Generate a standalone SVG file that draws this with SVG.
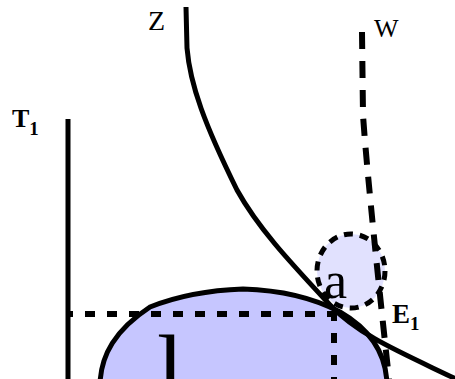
<svg xmlns="http://www.w3.org/2000/svg" width="455" height="379" viewBox="0 0 455 379">
<style>
.solid{fill:none;stroke:#000;stroke-width:5}
.dash{fill:none;stroke:#000;stroke-width:6;stroke-dasharray:10 12}
text{font-family:"Liberation Serif","Tinos","DejaVu Serif",serif;fill:#000}
.b{font-weight:bold}
</style>
<rect width="455" height="379" fill="#fff"/>
<g id="blob-l">
<path d="M100,384 C101,355 115,330 150,307 C180,295 215,290 243,289 C275,290 310,296 340,312 C366,327 386,350 387,384 Z" fill="#c6c6ff" stroke="#000" stroke-width="5"/>
<text x="157" y="401" font-size="96">l</text>
</g>
<g id="ellipse-a">
<ellipse cx="351" cy="271" rx="34" ry="37" fill="#e1e1fe" stroke="#000" stroke-width="5" stroke-dasharray="9 7"/>
<text x="324" y="298" font-size="52">a</text>
</g>
<g id="connectors">
<path id="axis-T1" class="solid" d="M68,119 L68,379"/>
<path id="curve-Z" class="solid" d="M186,7 L187,48 C190,85 205,125 237,190 C258,228 290,262 330,305 C360,336 400,352 456,379"/>
<path id="line-W" fill="none" stroke="#000" stroke-width="6" stroke-dasharray="17 12" d="M362,32 L363,115 C366,160 376,260 389,379"/>
<path id="h-dash" class="dash" stroke-dashoffset="3" d="M66,314 L337,314"/>
<path id="v-dash" class="dash" d="M334,311 L334,379"/>
</g>
<g id="label-T1"><text class="b" x="12" y="127" font-size="26">T<tspan font-size="19" dy="8">1</tspan></text></g>
<g id="label-Z"><text x="148" y="30" font-size="28">Z</text></g>
<g id="label-W"><text x="374" y="37" font-size="26">W</text></g>
<g id="label-E1"><text class="b" x="392" y="323" font-size="27">E<tspan font-size="19" dy="7">1</tspan></text></g>
</svg>
